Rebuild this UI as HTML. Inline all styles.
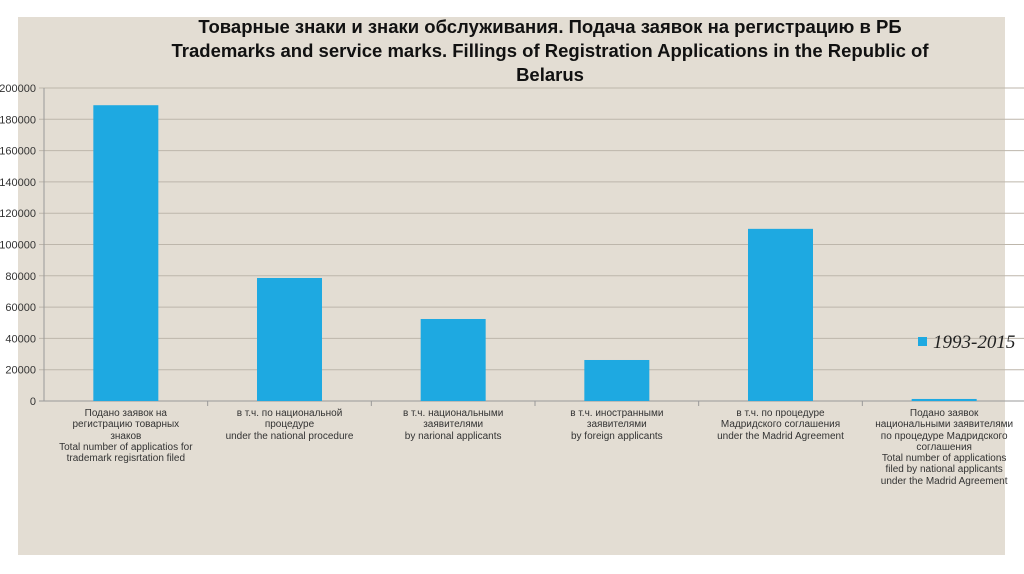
<!DOCTYPE html>
<html><head><meta charset="utf-8">
<style>
body{margin:0;width:1024px;height:574px;background:#fff;overflow:hidden;font-family:"Liberation Sans","Noto Sans CJK SC",sans-serif;}
#bg{position:absolute;left:18px;top:17px;width:987px;height:538px;background:#E3DDD3;}
#title{position:absolute;left:100px;top:15px;width:900px;text-align:center;font-weight:bold;font-size:18.5px;line-height:24px;color:#111;}
svg{position:absolute;left:0;top:0;}
.cat{position:absolute;top:408px;width:170px;text-align:center;font-size:10px;line-height:11.3px;color:#333;white-space:nowrap;}
#legend{position:absolute;left:918px;top:332px;font-family:"Liberation Serif",serif;font-style:italic;font-size:19px;color:#222;}
#legend span{display:inline-block;width:9px;height:9px;background:#1EA9E1;margin-right:6px;vertical-align:2px;}
</style></head><body>
<div id="bg"></div>
<div id="title">Товарные знаки и знаки обслуживания. Подача заявок на регистрацию в РБ<br>Trademarks and service marks. Fillings of Registration Applications in the Republic of<br>Belarus</div>
<svg id="chart" width="1024" height="574"></svg>
<div id="cats"></div>
<div id="legend"><span></span>1993-2015</div>
<script>
const categories=["Подано заявок на<br>регистрацию товарных<br>знаков<br>Total number of applicatios for<br>trademark regisrtation filed","в т.ч. по национальной<br>процедуре<br>under the national procedure","в т.ч. национальными<br>заявителями<br>by narional applicants","в т.ч. иностранными<br>заявителями<br>by foreign applicants","в т.ч. по процедуре<br>Мадридского соглашения<br>under the Madrid Agreement","Подано заявок<br>национальными заявителями<br>по процедуре Мадридского<br>соглашения<br>Total number of applications<br>filed by national applicants<br>under the Madrid Agreement"];
const values=[189000,78600,52400,26200,110000,1300];
const ticks=[0,20000,40000,60000,80000,100000,120000,140000,160000,180000,200000];
const svg=document.getElementById('chart');const NS='http://www.w3.org/2000/svg';
const x0=44,x1=1026,y0=401,y1=88,ymax=200000;
const bw=(x1-x0)/categories.length;
const yS=v=>y0-(v/ymax)*(y0-y1);
function el(t,a){const e=document.createElementNS(NS,t);for(const k in a)e.setAttribute(k,a[k]);svg.appendChild(e);return e;}
ticks.forEach(t=>{
 const l=el('line',{x1:x0-5,x2:x1,y1:yS(t),y2:yS(t),stroke:t===0?'#999':'#bdb6ab','stroke-width':1});
 
 
 const tx=el('text',{x:36,y:yS(t)+4,'text-anchor':'end','font-size':'11','fill':'#333','font-family':'Liberation Sans,sans-serif'});
 tx.textContent=t;
 
 
});
const ax=el('line',{x1:x0,x2:x0,y1:y1,y2:y0,stroke:'#999'});


const cats=document.getElementById('cats');
values.forEach((v,i)=>{
 const cx=x0+bw*(i+0.5);
 const r=el('rect',{x:cx-32.5,y:yS(v),width:65,height:y0-yS(v),fill:'#1EA9E1'});
 
 
 const tk=el('line',{x1:x0+bw*(i+1),x2:x0+bw*(i+1),y1:y0,y2:y0+5,stroke:'#999'});
 
 
 const d=document.createElement('div');d.className='cat';d.style.left=(cx-85)+'px';d.innerHTML=categories[i];
 
 
 cats.appendChild(d);
});
</script>
</body></html>
